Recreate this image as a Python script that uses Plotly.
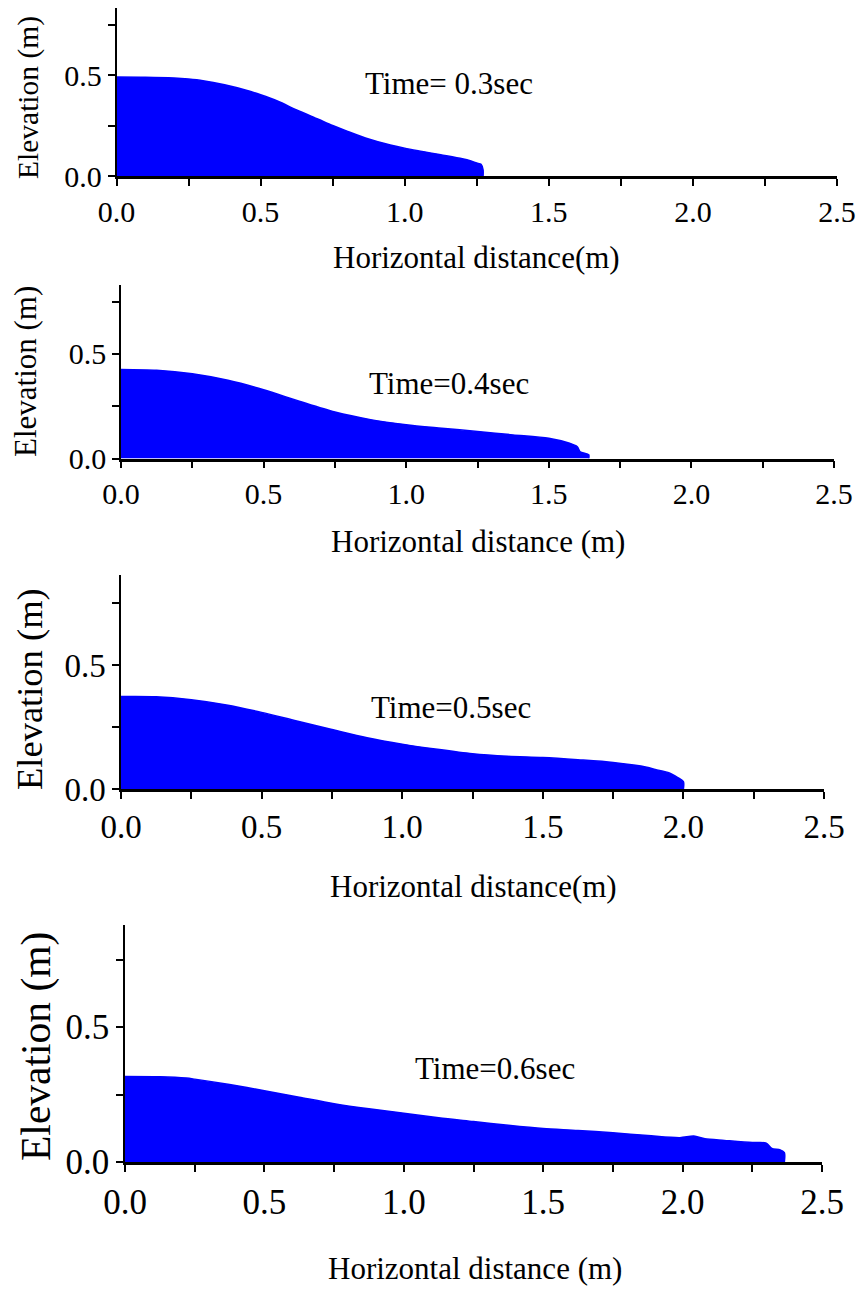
import plotly.graph_objects as go

# Free-surface profiles of the collapsing water column at four instants
x_t03 = [0.0, 0.1, 0.2, 0.25, 0.3, 0.375, 0.45, 0.5, 0.56, 0.625, 0.7, 0.75, 0.8,
         0.875, 0.95, 1.0, 1.06, 1.125, 1.2, 1.23, 1.25, 1.265, 1.272, 1.272]
h_t03 = [0.49, 0.489, 0.485, 0.48, 0.472, 0.452, 0.425, 0.402, 0.37, 0.327, 0.281,
         0.25, 0.222, 0.183, 0.154, 0.138, 0.122, 0.105, 0.085, 0.074, 0.064, 0.058, 0.03, 0.0]

x_t04 = [0.0, 0.125, 0.25, 0.375, 0.5, 0.625, 0.75, 0.875, 1.0, 1.125, 1.25, 1.375,
         1.5, 1.57, 1.6, 1.61, 1.64, 1.64]
h_t04 = [0.426, 0.422, 0.405, 0.374, 0.329, 0.274, 0.222, 0.186, 0.162, 0.145, 0.129,
         0.113, 0.097, 0.074, 0.056, 0.032, 0.018, 0.0]

x_t05 = [0.0, 0.125, 0.25, 0.375, 0.5, 0.625, 0.75, 0.875, 1.0, 1.125, 1.25, 1.375,
         1.5, 1.625, 1.75, 1.87, 1.9, 1.95, 1.98, 2.0, 2.0]
h_t05 = [0.373, 0.372, 0.36, 0.339, 0.309, 0.274, 0.24, 0.207, 0.181, 0.16, 0.142, 0.132,
         0.127, 0.118, 0.107, 0.088, 0.079, 0.065, 0.046, 0.03, 0.0]

x_t06 = [0.0, 0.125, 0.22, 0.25, 0.375, 0.5, 0.625, 0.75, 0.875, 1.0, 1.125, 1.25,
         1.375, 1.5, 1.625, 1.75, 1.875, 1.99, 2.04, 2.08, 2.15, 2.25, 2.3, 2.32,
         2.35, 2.365, 2.365]
h_t06 = [0.317, 0.316, 0.311, 0.307, 0.287, 0.264, 0.24, 0.216, 0.197, 0.181, 0.164,
         0.15, 0.136, 0.124, 0.117, 0.108, 0.098, 0.09, 0.096, 0.086, 0.08, 0.072, 0.07,
         0.05, 0.045, 0.035, 0.0]

time_labels = ["Time= 0.3sec", "Time=0.4sec", "Time=0.5sec", "Time=0.6sec"]
x_titles = ["Horizontal distance(m)", "Horizontal distance (m)",
            "Horizontal distance(m)", "Horizontal distance (m)"]
y_title = "Elevation (m)"
x_tickvals = [0.0, 0.5, 1.0, 1.5, 2.0, 2.5]
x_ticktext = ["0.0", "0.5", "1.0", "1.5", "2.0", "2.5"]
y_tickvals = [0.0, 0.5]
y_ticktext = ["0.0", "0.5"]

profiles = [(x_t03, h_t03), (x_t04, h_t04), (x_t05, h_t05), (x_t06, h_t06)]

W, H = 858, 1294
SERIF = "Liberation Serif, Times New Roman, serif"

# panel geometry in pixels: x-left, x-right, y of zero line, y of axis top, ymax
panels = [
    dict(xl=116.5, xr=837, y0=176, ytop=8, ymax=0.832, tick=30, ytitle=29.5,
         ytx=28, yty=98, tx=449, ty=84, xt_y=257, xt_x=476, xt_size=31),
    dict(xl=121, xr=834, y0=458.5, ytop=285, ymax=0.830, tick=30, ytitle=31,
         ytx=25, yty=372, tx=449, ty=383, xt_y=541, xt_x=478, xt_size=31),
    dict(xl=121, xr=824, y0=789, ytop=575, ymax=0.863, tick=33, ytitle=36.5,
         ytx=29, yty=689, tx=451, ty=707, xt_y=886, xt_x=473, xt_size=31),
    dict(xl=125, xr=822, y0=1162, ytop=925, ymax=0.878, tick=35, ytitle=41.5,
         ytx=36, yty=1047, tx=495, ty=1068, xt_y=1268, xt_x=475, xt_size=31),
]

fig = go.Figure()
annotations = []

for i, (p, (xs, hs)) in enumerate(zip(panels, profiles)):
    n = "" if i == 0 else str(i + 1)
    fig.add_trace(go.Scatter(
        x=xs, y=hs, mode="lines", fill="tozeroy", line_shape="spline",
        fillcolor="#0000FF", line=dict(color="#0000FF", width=1.5, smoothing=0.8),
        xaxis="x" + n, yaxis="y" + n, showlegend=False, hoverinfo="skip",
    ))
    fig.layout["xaxis" + n] = dict(
        domain=[p["xl"] / W, p["xr"] / W], anchor="y" + n, range=[0, 2.5],
        automargin=False,
        tickvals=x_tickvals, ticktext=x_ticktext, ticks="outside", ticklen=7,
        tickwidth=1.5, tickcolor="black", showline=True, linecolor="black",
        linewidth=2.5, showgrid=False, zeroline=False,
        tickfont=dict(family=SERIF, size=p["tick"], color="black"),
        minor=dict(tickvals=[0.25, 0.75, 1.25, 1.75, 2.25], ticks="outside",
                   ticklen=7, tickwidth=1.5, tickcolor="black", showgrid=False),
    )
    fig.layout["yaxis" + n] = dict(
        domain=[1 - p["y0"] / H, 1 - p["ytop"] / H], anchor="x" + n,
        range=[0, p["ymax"]], tickvals=y_tickvals, ticktext=y_ticktext,
        automargin=False,
        ticks="outside", ticklen=7, tickwidth=1.5, tickcolor="black",
        showline=True, linecolor="black", linewidth=1.5, showgrid=False,
        zeroline=False,
        tickfont=dict(family=SERIF, size=p["tick"], color="black"),
        minor=dict(tickvals=[0.25, 0.75], ticks="outside", ticklen=7,
                   tickwidth=1.5, tickcolor="black", showgrid=False),
    )
    annotations.append(dict(
        text=time_labels[i], x=p["tx"] / W, y=1 - p["ty"] / H,
        xref="paper", yref="paper", xanchor="center", yanchor="middle",
        showarrow=False, font=dict(family=SERIF, size=31, color="black"),
    ))
    annotations.append(dict(
        text=x_titles[i], x=p["xt_x"] / W, y=1 - p["xt_y"] / H,
        xref="paper", yref="paper", xanchor="center", yanchor="middle",
        showarrow=False, font=dict(family=SERIF, size=p["xt_size"], color="black"),
    ))
    annotations.append(dict(
        text=y_title, x=p["ytx"] / W, y=1 - p["yty"] / H,
        xref="paper", yref="paper", xanchor="center", yanchor="middle",
        textangle=-90, showarrow=False,
        font=dict(family=SERIF, size=p["ytitle"], color="black"),
    ))

fig.update_layout(
    template="none",
    width=W, height=H, margin=dict(l=0, r=0, t=0, b=0, autoexpand=False),
    paper_bgcolor="white", plot_bgcolor="white",
    annotations=annotations, showlegend=False,
)

fig.write_html("out.html")
